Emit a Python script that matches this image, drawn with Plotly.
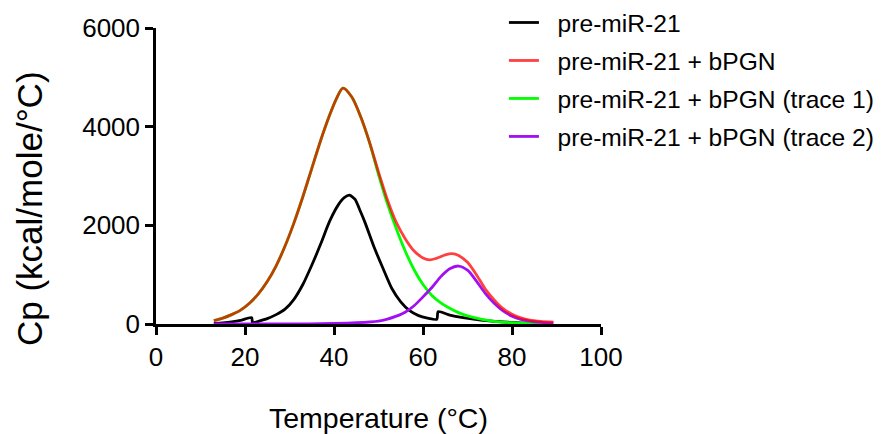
import plotly.graph_objects as go

# ---- data ----
black_T = [13, 15, 17, 19, 21.5, 21.7, 23, 25, 27, 29, 31, 33, 35, 37, 39, 41, 42.3, 43.5,
           44.7, 46, 47, 49, 51, 53, 55, 57, 59, 61, 63.1, 63.4, 66, 69, 73, 77, 81, 85, 89]
black_V = [10, 25, 45, 75, 130, 25, 55, 110, 190, 300, 500, 800, 1190, 1620, 2080, 2420,
           2560, 2610, 2530, 2270, 2050, 1560, 1130, 720, 450, 270, 170, 120, 95, 250, 182,
           130, 80, 47, 25, 12, 5]

red_T = [13, 15, 17, 19, 21, 23, 25, 27, 29, 31, 33, 35, 37, 39, 40.5, 42, 44, 46, 48, 50,
         52, 54, 56, 58, 60, 61.5, 63, 65, 66.5, 68, 70, 72, 74, 76, 78, 80, 82, 84, 86.5, 89.3]
red_V = [70, 120, 190, 280, 420, 610, 860, 1180, 1580, 2050, 2580, 3150, 3720, 4230, 4560,
         4780, 4600, 4200, 3680, 3080, 2520, 2060, 1730, 1480, 1340, 1300, 1330, 1400, 1425,
         1390, 1250, 1000, 710, 490, 310, 200, 125, 80, 55, 40]

green_T = [13, 15, 17, 19, 21, 23, 25, 27, 29, 31, 33, 35, 37, 39, 40.5, 42, 44, 46, 48, 50,
           52, 54, 56, 58, 60, 62, 64, 66, 68, 70, 73, 76, 80, 84, 89]
green_V = [70, 120, 190, 280, 420, 610, 860, 1180, 1580, 2050, 2580, 3150, 3720, 4230, 4560,
           4780, 4600, 4200, 3670, 3030, 2440, 1930, 1480, 1100, 800, 580, 430, 320, 230, 165,
           100, 55, 25, 12, 5]

purple_T = [13, 30, 40, 45, 50, 52, 54, 56, 58, 60, 62, 64, 66, 68, 70, 72, 74, 76, 78, 80,
            82, 84, 86.5, 89.3]
purple_V = [0, 2, 10, 25, 60, 100, 160, 240, 370, 550, 740, 960, 1120, 1175, 1090, 870, 620,
            420, 265, 160, 95, 60, 35, 20]

names = ["pre-miR-21", "pre-miR-21 + bPGN", "pre-miR-21 + bPGN (trace 1)",
         "pre-miR-21 + bPGN (trace 2)"]
x_ticks = [0, 20, 40, 60, 80, 100]
y_ticks = [0, 2000, 4000, 6000]

FONT = "Liberation Sans, Arial, sans-serif"
LW = 2.8
PAD = "\u00a0\u00a0"  # gap between legend line sample and label

fig = go.Figure()
# drawing order: black, green, purple, red (red semi-transparent on top)
fig.add_trace(go.Scatter(x=black_T, y=black_V, mode="lines", name=PAD + names[0], legendrank=1,
                         line=dict(color="#000000", width=LW, shape="spline", smoothing=0.6)))
fig.add_trace(go.Scatter(x=green_T, y=green_V, mode="lines", name=PAD + names[2], legendrank=3,
                         line=dict(color="#00FF00", width=LW, shape="spline", smoothing=0.8)))
fig.add_trace(go.Scatter(x=purple_T, y=purple_V, mode="lines", name=PAD + names[3], legendrank=4,
                         line=dict(color="#A010F0", width=LW, shape="spline", smoothing=0.8)))
fig.add_trace(go.Scatter(x=red_T, y=red_V, mode="lines", name=PAD + names[1], legendrank=2,
                         line=dict(color="rgba(255,0,0,0.75)", width=LW, shape="spline",
                                   smoothing=0.8)))

for i, tr in enumerate(fig.data):
    tr.legendgroup = "g%d" % i

axis_common = dict(showline=True, linecolor="black", linewidth=2.5, ticks="outside",
                   ticklen=8, tickwidth=2.5, tickcolor="black", showgrid=False,
                   zeroline=False, automargin=False,
                   tickfont=dict(family=FONT, size=26, color="black"))

fig.update_layout(
    width=881, height=434,
    margin=dict(l=156, r=280, t=28, b=110, autoexpand=False),
    paper_bgcolor="white", plot_bgcolor="white",
    font=dict(family=FONT, color="black"),
    xaxis=dict(range=[0, 100], tickvals=x_ticks, **axis_common),
    yaxis=dict(range=[0, 6000], tickvals=y_ticks, **axis_common),
    legend=dict(xref="container", yref="container", x=0.572, xanchor="left",
                y=1.006, yanchor="top",
                font=dict(family=FONT, size=24.6, color="black"),
                tracegroupgap=3, itemwidth=30, bgcolor="rgba(0,0,0,0)"),
    showlegend=True,
    annotations=[
        dict(text="Temperature (°C)", xref="paper", yref="paper", x=0.5, y=-0.3176,
             xanchor="center", yanchor="middle", showarrow=False,
             font=dict(family=FONT, size=28.5, color="black")),
        dict(text="Cp (kcal/mole/°C)", xref="paper", yref="paper", x=-0.2843, y=0.39,
             xanchor="center", yanchor="middle", showarrow=False, textangle=-90,
             font=dict(family=FONT, size=35, color="black")),
    ],
)

fig.write_html("out.html")
